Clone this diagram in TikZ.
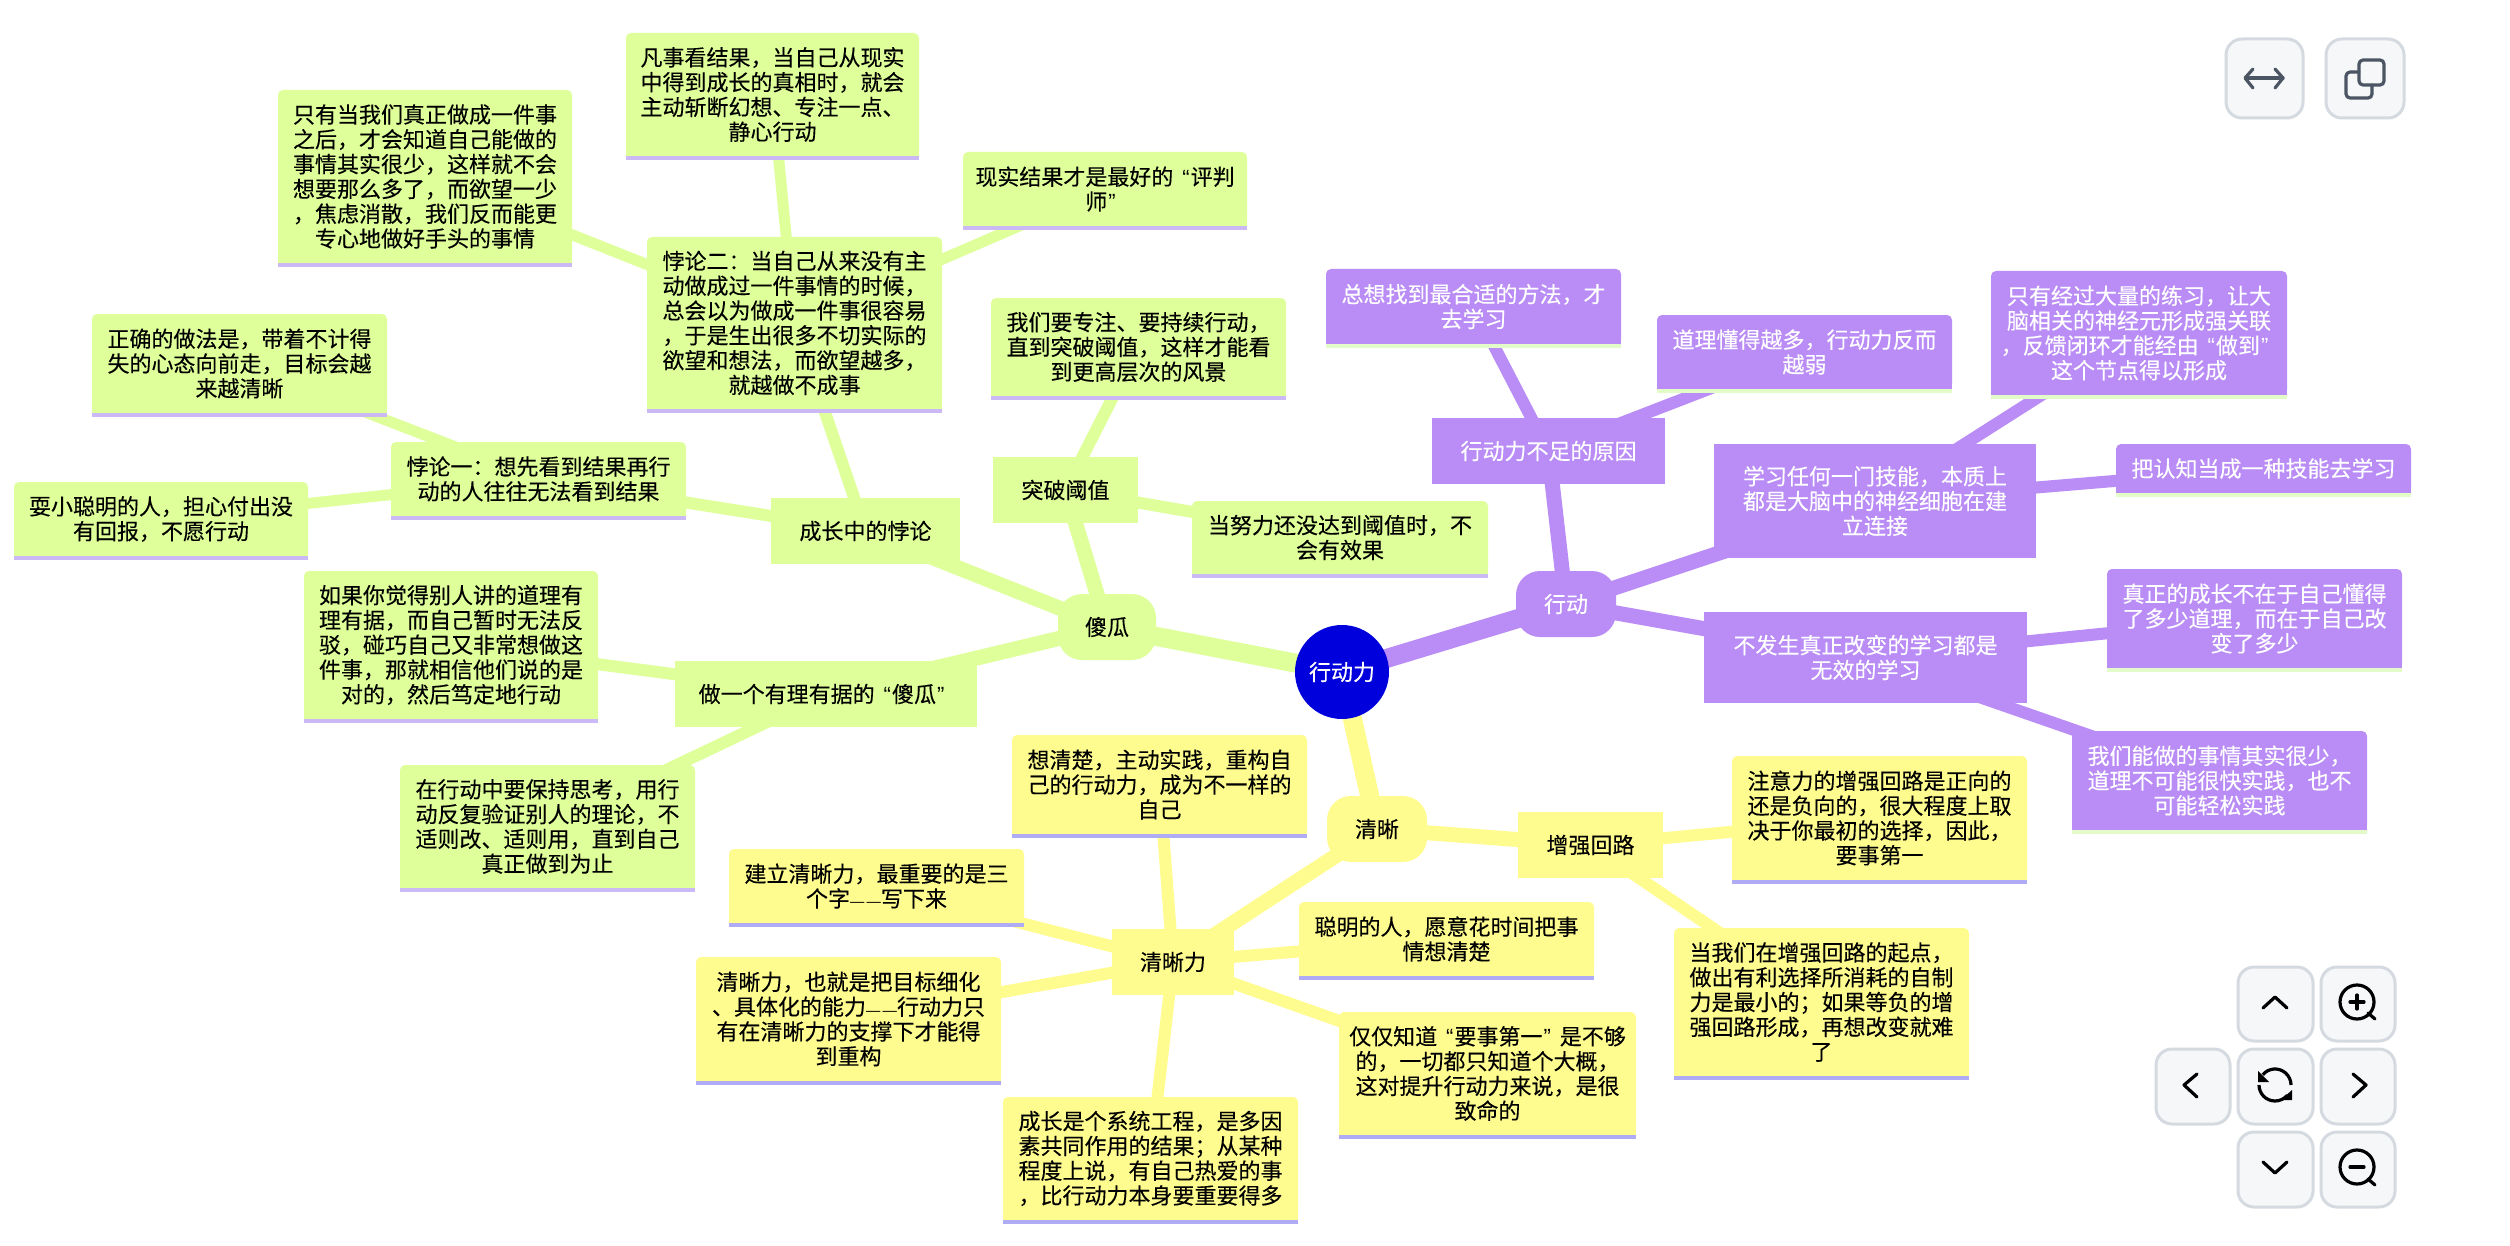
\documentclass[tikz,border=0pt]{standalone}
\usepackage{fontspec}
\setmainfont{Noto Sans CJK SC}[FakeBold=0.2]
\newfontfamily\quotefont{Liberation Sans}
\newfontfamily\dashfont[Scale=0.65]{Liberation Sans}
\newcommand\lqt{{\kern4.5pt\quotefont “\kern0.5pt}}
\newcommand\rqt{{\kern0.5pt\quotefont ”\kern4.5pt}}
\newcommand\dashes{{\dashfont —\kern1.2pt—}}
\usetikzlibrary{backgrounds}
\definecolor{grc}{HTML}{DFFF9A}
\definecolor{grline}{HTML}{CBB9F6}
\definecolor{yec}{HTML}{FFFC8F}
\definecolor{yeline}{HTML}{AFABF5}
\definecolor{puc}{HTML}{BA8CF6}
\definecolor{puline}{HTML}{E3FBC8}
\definecolor{rootc}{HTML}{0000DD}
\definecolor{btnfill}{HTML}{F6F7F9}
\definecolor{btnedge}{HTML}{D5DAE1}
\definecolor{icongrey}{HTML}{4B5563}
\tikzset{
  boxtext/.style={inner sep=0pt,align=center,font=\fontsize{11}{12.4}\selectfont,rectangle},
  leafbox/.style={boxtext,rounded corners=2.5pt},
  gstyle/.style={fill=grc,text=black},
  ystyle/.style={fill=yec,text=black},
  pstyle/.style={fill=puc,text=white},
  rootedge/.style={line width=9.5pt},
  lvone/.style={line width=7.5pt},
  lvtwo/.style={line width=6pt},
  lvthree/.style={line width=5.5pt},
  gedge/.style={draw=grc},
  yedge/.style={draw=yec},
  pedge/.style={draw=puc},
  button/.style={rectangle,rounded corners=8pt,fill=btnfill,draw=btnedge,line width=1.5pt,inner sep=0pt},
  icon/.style={draw=black,line width=1.6pt,line cap=round,line join=round},
  greyicon/.style={draw=icongrey,line width=1.6pt,line cap=round,line join=round},
}
% name, x1, y1, x2, y2 (with underline), colour style, underline colour, text
\newcommand\leafnode[8]{%
  \fill[#6] (#2,{(#3+#5)/2}) rectangle (#4,#5-4);
  \node[leafbox,#6,minimum width={(#4-#2)*0.5pt},minimum height={(#5-4-#3)*0.5pt}]
     (#1) at ({(#2+#4)/2},{(#3+#5-4)/2}) {#8};
  \fill[#7] (#2,#5-4) rectangle (#4,#5);
}
% name, x1, y1, x2, y2, colour style, text
\newcommand\bodynode[7]{%
  \node[boxtext,#6,minimum width={(#4-#2)*0.5pt},minimum height={(#5-#3)*0.5pt}]
     (#1) at ({(#2+#4)/2},{(#3+#5)/2}) {#7};
}
% name, x1, y1, x2, y2, colour style, text
\newcommand\roundnode[7]{%
  \node[boxtext,#6,rounded corners=12pt,minimum width={(#4-#2)*0.5pt},minimum height={(#5-#3)*0.5pt}]
     (#1) at ({(#2+#4)/2},{(#3+#5)/2}) {#7};
}
\newcommand\buttonnode[5]{%
  \node[button,minimum width={(#4-#2)*0.5pt},minimum height={(#5-#3)*0.5pt}]
     (#1) at ({(#2+#4)/2},{(#3+#5)/2}) {};
}
\begin{document}
\begin{tikzpicture}[x=0.5pt,y=-0.5pt]
\useasboundingbox (0,0) rectangle (2510,1246);

% root
\node[circle,fill=rootc,text=white,inner sep=0pt,minimum size=47pt,font=\fontsize{11}{12.4}\selectfont] (root) at (1342,672) {行动力};

% green branch
\roundnode{fool}{1058}{594}{1156}{660}{gstyle}{傻瓜}
\bodynode{grow}{771}{498}{960}{564}{gstyle}{成长中的悖论}
\bodynode{breakt}{993}{457}{1138}{523}{gstyle}{突破阈值}
\bodynode{sound}{675}{661}{977}{727}{gstyle}{做一个有理有据的\lqt 傻瓜\rqt}
\leafnode{pone}{391}{442}{686}{520}{gstyle}{grline}{悖论一：想先看到结果再行\\动的人往往无法看到结果}
\leafnode{ptwo}{647}{237}{942}{413}{gstyle}{grline}{悖论二：当自己从来没有主\\动做成过一件事情的时候，\\总会以为做成一件事很容易\\，于是生出很多不切实际的\\欲望和想法，而欲望越多，\\就越做不成事}
\leafnode{right}{92}{314}{387}{417}{gstyle}{grline}{正确的做法是，带着不计得\\失的心态向前走，目标会越\\来越清晰}
\leafnode{smart}{14}{482}{308}{560}{gstyle}{grline}{耍小聪明的人，担心付出没\\有回报，不愿行动}
\leafnode{only}{278}{90}{572}{267}{gstyle}{grline}{只有当我们真正做成一件事\\之后，才会知道自己能做的\\事情其实很少，这样就不会\\想要那么多了，而欲望一少\\，焦虑消散，我们反而能更\\专心地做好手头的事情}
\leafnode{result}{626}{33}{919}{160}{gstyle}{grline}{凡事看结果，当自己从现实\\中得到成长的真相时，就会\\主动斩断幻想、专注一点、\\静心行动}
\leafnode{real}{963}{152}{1247}{230}{gstyle}{grline}{现实结果才是最好的\lqt 评判\\师\rqt}
\leafnode{focus}{991}{298}{1286}{400}{gstyle}{grline}{我们要专注、要持续行动，\\直到突破阈值，这样才能看\\到更高层次的风景}
\leafnode{effort}{1192}{501}{1488}{578}{gstyle}{grline}{当努力还没达到阈值时，不\\会有效果}
\leafnode{ifyou}{304}{571}{598}{723}{gstyle}{grline}{如果你觉得别人讲的道理有\\理有据，而自己暂时无法反\\驳，碰巧自己又非常想做这\\件事，那就相信他们说的是\\对的，然后笃定地行动}
\leafnode{inaction}{400}{765}{695}{892}{gstyle}{grline}{在行动中要保持思考，用行\\动反复验证别人的理论，不\\适则改、适则用，直到自己\\真正做到为止}

% purple branch
\roundnode{act}{1516}{571}{1616}{637}{pstyle}{行动}
\bodynode{cause}{1432}{418}{1665}{484}{pstyle}{行动力不足的原因}
\bodynode{learn}{1714}{444}{2036}{558}{pstyle}{学习任何一门技能，本质上\\都是大脑中的神经细胞在建\\立连接}
\bodynode{nochange}{1704}{612}{2027}{703}{pstyle}{不发生真正改变的学习都是\\无效的学习}
\leafnode{method}{1326}{269}{1621}{348}{pstyle}{puline}{总想找到最合适的方法，才\\去学习}
\leafnode{theory}{1657}{315}{1952}{393}{pstyle}{puline}{道理懂得越多，行动力反而\\越弱}
\leafnode{practice}{1991}{271}{2287}{399}{pstyle}{puline}{只有经过大量的练习，让大\\脑相关的神经元形成强关联\\，反馈闭环才能经由\lqt 做到\rqt\\这个节点得以形成}
\leafnode{skill}{2116}{444}{2411}{497}{pstyle}{puline}{把认知当成一种技能去学习}
\leafnode{truegrow}{2107}{569}{2402}{672}{pstyle}{puline}{真正的成长不在于自己懂得\\了多少道理，而在于自己改\\变了多少}
\leafnode{fewer}{2072}{731}{2367}{834}{pstyle}{puline}{我们能做的事情其实很少，\\道理不可能很快实践，也不\\可能轻松实践}

% yellow branch
\roundnode{clear}{1327}{796}{1427}{862}{ystyle}{清晰}
\bodynode{loop}{1518}{812}{1663}{878}{ystyle}{增强回路}
\bodynode{clarity}{1112}{929}{1234}{995}{ystyle}{清晰力}
\leafnode{attention}{1732}{756}{2027}{884}{ystyle}{yeline}{注意力的增强回路是正向的\\还是负向的，很大程度上取\\决于你最初的选择，因此，\\要事第一}
\leafnode{start}{1674}{928}{1969}{1080}{ystyle}{yeline}{当我们在增强回路的起点，\\做出有利选择所消耗的自制\\力是最小的；如果等负的增\\强回路形成，再想改变就难\\了}
\leafnode{think}{1012}{735}{1307}{838}{ystyle}{yeline}{想清楚，主动实践，重构自\\己的行动力，成为不一样的\\自己}
\leafnode{build}{729}{849}{1024}{927}{ystyle}{yeline}{建立清晰力，最重要的是三\\个字\dashes 写下来}
\leafnode{capability}{696}{957}{1001}{1085}{ystyle}{yeline}{清晰力，也就是把目标细化\\、具体化的能力\dashes 行动力只\\有在清晰力的支撑下才能得\\到重构}
\leafnode{system}{1003}{1097}{1298}{1224}{ystyle}{yeline}{成长是个系统工程，是多因\\素共同作用的结果；从某种\\程度上说，有自己热爱的事\\，比行动力本身要重要得多}
\leafnode{smartp}{1299}{902}{1594}{980}{ystyle}{yeline}{聪明的人，愿意花时间把事\\情想清楚}
\leafnode{merely}{1339}{1012}{1636}{1139}{ystyle}{yeline}{仅仅知道\lqt 要事第一\rqt 是不够\\的，一切都只知道个大概，\\这对提升行动力来说，是很\\致命的}

% connectors
\begin{scope}[on background layer]
\fill[white] (0,0) rectangle (2510,1246);
\draw[rootedge,gedge] (root.center) -- (fool.center);
\draw[rootedge,pedge] (root.center) -- (act.center);
\draw[rootedge,yedge] (root.center) -- (clear.center);
\draw[lvone,gedge] (fool.center) -- (grow.center);
\draw[lvone,gedge] (fool.center) -- (breakt.center);
\draw[lvone,gedge] (fool.center) -- (sound.center);
\draw[lvtwo,gedge] (grow.center) -- (pone.center);
\draw[lvtwo,gedge] (grow.center) -- (ptwo.center);
\draw[lvtwo,gedge] (breakt.center) -- (focus.center);
\draw[lvtwo,gedge] (breakt.center) -- (effort.center);
\draw[lvtwo,gedge] (sound.center) -- (ifyou.center);
\draw[lvtwo,gedge] (sound.center) -- (inaction.center);
\draw[lvthree,gedge] (pone.center) -- (right.center);
\draw[lvthree,gedge] (pone.center) -- (smart.center);
\draw[lvthree,gedge] (ptwo.center) -- (only.center);
\draw[lvthree,gedge] (ptwo.center) -- (result.center);
\draw[lvthree,gedge] (ptwo.center) -- (real.center);
\draw[lvone,pedge] (act.center) -- (cause.center);
\draw[lvone,pedge] (act.center) -- (learn.center);
\draw[lvone,pedge] (act.center) -- (nochange.center);
\draw[lvtwo,pedge] (cause.center) -- (method.center);
\draw[lvtwo,pedge] (cause.center) -- (theory.center);
\draw[lvtwo,pedge] (learn.center) -- (practice.center);
\draw[lvtwo,pedge] (learn.center) -- (skill.center);
\draw[lvtwo,pedge] (nochange.center) -- (truegrow.center);
\draw[lvtwo,pedge] (nochange.center) -- (fewer.center);
\draw[lvone,yedge] (clear.center) -- (loop.center);
\draw[lvone,yedge] (clear.center) -- (clarity.center);
\draw[lvtwo,yedge] (loop.center) -- (attention.center);
\draw[lvtwo,yedge] (loop.center) -- (start.center);
\draw[lvtwo,yedge] (clarity.center) -- (think.center);
\draw[lvtwo,yedge] (clarity.center) -- (build.center);
\draw[lvtwo,yedge] (clarity.center) -- (capability.center);
\draw[lvtwo,yedge] (clarity.center) -- (system.center);
\draw[lvtwo,yedge] (clarity.center) -- (smartp.center);
\draw[lvtwo,yedge] (clarity.center) -- (merely.center);
\end{scope}

% buttons
\buttonnode{bwide}{2226}{39}{2303}{118}
\buttonnode{bcopy}{2326}{39}{2404}{118}
\buttonnode{bup}{2238}{967}{2313}{1041}
\buttonnode{bplus}{2321}{967}{2395}{1041}
\buttonnode{bleft}{2156}{1049}{2230}{1124}
\buttonnode{breload}{2238}{1049}{2313}{1124}
\buttonnode{bright}{2321}{1049}{2395}{1124}
\buttonnode{bdown}{2238}{1132}{2313}{1207}
\buttonnode{bminus}{2321}{1132}{2395}{1207}

% icons
\draw[greyicon] (2246,78) -- (2283,78);
\draw[greyicon] (2253,69) -- (2245,78) -- (2253,88);
\draw[greyicon] (2275,69) -- (2283,78) -- (2275,88);
\draw[greyicon,rounded corners=2pt] (2359,60) rectangle (2384,85);
\draw[greyicon,rounded corners=2pt] (2359,72) -- (2346,72) -- (2346,98) -- (2372,98) -- (2372,85);
\draw[icon] (2263,1008) -- (2275,997) -- (2287,1008);
\draw[icon] (2263,1162) -- (2275,1173) -- (2287,1162);
\draw[icon] (2197,1074) -- (2184,1085) -- (2197,1097);
\draw[icon] (2353,1074) -- (2366,1085) -- (2353,1097);
\draw[icon] (2357,1002) circle (17);
\draw[icon] (2368,1013) -- (2375,1019);
\draw[icon] (2350,1002) -- (2364,1002) (2357,995) -- (2357,1009);
\draw[icon] (2357,1167) circle (17);
\draw[icon] (2368,1179) -- (2375,1185);
\draw[icon] (2350,1167) -- (2364,1167);
\draw[icon,line cap=butt] (2275,1085) ++(140:8pt) arc[start angle=140,end angle=0,radius=8pt];
\draw[icon,line cap=butt] (2275,1085) ++(180:8pt) arc[start angle=180,end angle=320,radius=8pt];
\fill[black] (2258,1071) -- (2258,1082) -- (2269,1082) -- cycle;
\fill[black] (2292,1090) -- (2292,1100) -- (2281,1100) -- cycle;
\end{tikzpicture}
\end{document}
